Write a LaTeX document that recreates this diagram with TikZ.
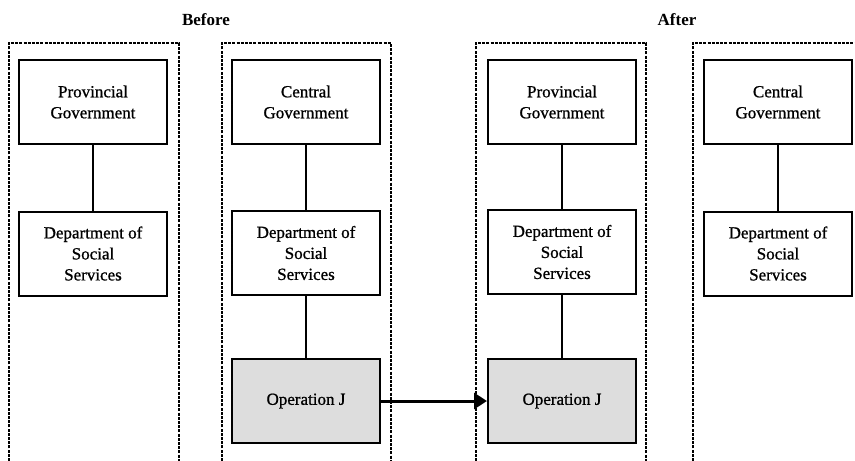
\documentclass[tikz,border=0pt]{standalone}
\usepackage{fontspec}
\setmainfont{Liberation Serif}
\newfontfamily\boxfont[FakeBold=0.9]{Liberation Serif}
\usetikzlibrary{arrows.meta}
\tikzset{
  orgbox/.style={draw, line width=2pt, minimum width=148pt, minimum height=84pt,
    align=center, inner sep=0pt, font=\boxfont\fontsize{17}{21}\selectfont},
  opbox/.style={orgbox, fill=opgray},
  link/.style={line width=1.6pt},
  frame/.style={line width=1.2pt, dash pattern=on 3pt off 1.2pt},
  title/.style={font=\fontsize{17}{21}\selectfont\bfseries},
  movearrow/.style={line width=3pt, -{Triangle[length=13pt,width=16pt]}}
}
\definecolor{opgray}{RGB}{221,221,221}
\begin{document}
\begin{tikzpicture}[x=1pt,y=-1pt]
\useasboundingbox (0,0) rectangle (855,461);
% dashed frames
\draw[frame] (9,461) -- (9,43) -- (179,43) -- (179,461);
\draw[frame] (222,461) -- (222,43) -- (391,43) -- (391,461);
\draw[frame] (476,461) -- (476,43) -- (646,43) -- (646,461);
\draw[frame] (693,461) -- (693,43) -- (855,43);
% titles
\node[title] (before) at (206,20) {Before};
\node[title] (after) at (677,20) {After};
% before: provincial
\node[orgbox] (prov1) at (93,102) {Provincial\\Government};
\node[orgbox] (dept1) at (93,253.5) {Department of\\Social\\Services};
% before: central
\node[orgbox] (cg1) at (306,102) {Central\\Government};
\node[orgbox] (dept2) at (306,253) {Department of\\Social\\Services};
\node[opbox] (op1) at (306,401) {Operation J};
% after: provincial
\node[orgbox] (prov2) at (562,102) {Provincial\\Government};
\node[orgbox] (dept3) at (562,252) {Department of\\Social\\Services};
\node[opbox] (op2) at (562,401) {Operation J};
% after: central
\node[orgbox] (cg2) at (778,102) {Central\\Government};
\node[orgbox] (dept4) at (778,253.5) {Department of\\Social\\Services};
% connectors
\draw[link] (prov1) -- (dept1);
\draw[link] (cg1) -- (dept2);
\draw[link] (dept2) -- (op1);
\draw[link] (prov2) -- (dept3);
\draw[link] (dept3) -- (op2);
\draw[link] (cg2) -- (dept4);
\draw[movearrow] (op1.east) -- (op2.west);
\end{tikzpicture}
\end{document}
